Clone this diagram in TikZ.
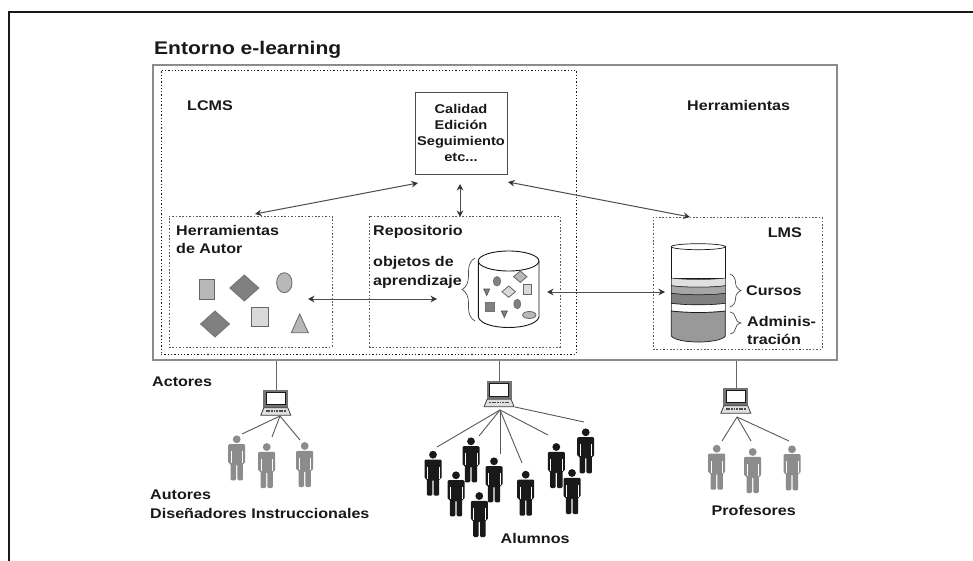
\documentclass[tikz,border=0pt]{standalone}
\usepackage{fontspec}
\setmainfont[FakeStretch=1.15]{Liberation Sans}
\usetikzlibrary{arrows.meta,decorations.pathreplacing}
\definecolor{ink}{gray}{0.1}
\definecolor{midg}{gray}{0.55}
\definecolor{shp}{gray}{0.72}
\definecolor{shd}{gray}{0.5}
\definecolor{shl}{gray}{0.85}
\tikzset{
  x=1pt,y=-1pt,
  lab/.style={font=\bfseries\fontsize{14}{16}\selectfont,text=ink,inner sep=0pt,anchor=west},
  labc/.style={font=\bfseries\fontsize{12.7}{16}\selectfont,text=ink,align=center,inner sep=0pt},
  solidbox/.style={draw=midg,line width=1.3pt,inner sep=0pt,rectangle},
  lcmsbox/.style={draw=ink,line width=0.6pt,dash pattern=on 1.3pt off 2pt,inner sep=0pt,rectangle},
  subbox/.style={draw=black!65,line width=0.7pt,dash pattern=on 1.6pt off 1.8pt,inner sep=0pt,rectangle},
  twoway/.style={draw=black!70,line width=1pt,{Stealth[length=6.5pt,width=6.5pt,black!80]}-{Stealth[length=6.5pt,width=6.5pt,black!80]}},
  lapbox/.style={minimum width=30pt,minimum height=26pt,inner sep=0pt,rectangle},
  uplink/.style={draw=black!60,line width=1pt},
  link/.style={draw=black!65,line width=0.9pt},
  shapeA/.style={fill=shp,draw=black!60,line width=0.8pt},
  shapeB/.style={fill=shd,draw=black!55,line width=0.8pt},
  shapeC/.style={fill=shl,draw=black!60,line width=0.8pt},
  bracestyle/.style={draw=black!70,line width=0.7pt,decorate},
  laptop/.pic={
    \fill[black!55] (2.5,0) rectangle (27.5,18);
    \draw[fill=white,draw=ink,line width=0.7pt] (5.5,2.5) rectangle (24.5,15);
    \draw[fill=black!12,draw=black!75,line width=0.8pt] (3,18) -- (27,18) -- (30,25.5) -- (0,25.5) -- cycle;
    \draw[black!70,line width=1.5pt,dash pattern=on 1.8pt off 0.8pt] (5,21) -- (25,21);
  },
  person/.pic={
    \fill (0,0) circle[radius=3.9pt];
    \fill[rounded corners=1.2pt] (-8.5,4.8) -- (8.5,4.8) -- (8.5,24) -- (6.2,24) -- (6.2,41) -- (0.7,41) -- (0.7,25) -- (-0.7,25) -- (-0.7,41) -- (-6.2,41) -- (-6.2,24) -- (-8.5,24) -- cycle;
    \draw[white,line width=0.4pt] (-5.8,12) -- (-5.8,24) (5.8,12) -- (5.8,24);
  },
}
\newcommand{\band}[4]{% top, bottom, curve depth, colour
  \draw[fill=#4,draw=ink,line width=0.5pt] (671.3,#1) .. controls (685,#1+#3) and (712,#1+#3) .. (725.3,#1) -- (725.3,#2) .. controls (712,#2+#3) and (685,#2+#3) .. (671.3,#2) -- cycle;}
\begin{document}
\begin{tikzpicture}
\useasboundingbox (0,0) rectangle (973,561);
\fill[white] (0,0) rectangle (973,561);
\draw[ink,line width=2pt] (9,561) -- (9,12.5) -- (973,12.5);

% boxes
\node[solidbox,minimum width=684pt,minimum height=295pt] (outer) at (495,212.5) {};
\node[lcmsbox,minimum width=415pt,minimum height=284pt] (lcms) at (368.5,212) {};
\node[subbox,minimum width=163pt,minimum height=131pt] (herr) at (250.5,281.5) {};
\node[subbox,minimum width=191pt,minimum height=131pt] (repo) at (464.5,281.5) {};
\node[subbox,minimum width=169pt,minimum height=132pt] (lms) at (737.5,283) {};
\node[draw=black!70,line width=0.9pt,minimum width=92pt,minimum height=82pt,inner sep=0pt,labc] (cal) at (461,133) {Calidad\\Edición\\Seguimiento\\etc...};

% titles and labels
\node[lab,font=\bfseries\fontsize{18.3}{20}\selectfont] (t1) at (154,50) {Entorno e-learning};
\node[lab] (t2) at (187,106) {LCMS};
\node[lab] (t3) at (687,105) {Herramientas};
\node[lab] (t4) at (176,230) {Herramientas};
\node[lab] (t5) at (176,248) {de Autor};
\node[lab] (t6) at (373,232) {Repositorio};
\node[lab] (t7) at (373,263) {objetos de};
\node[lab] (t8) at (373,282) {aprendizaje};
\node[lab,anchor=east] (t9) at (802,233) {LMS};
\node[lab] (t10) at (746,291) {Cursos};
\node[lab] (t11) at (747,321) {Adminis-};
\node[lab] (t12) at (747,339) {tración};
\node[lab] (t13) at (152,382) {Actores};
\node[lab] (t14) at (150,495) {Autores};
\node[lab] (t15) at (150,513) {Diseñadores Instruccionales};
\node[lab] (t16) at (500.5,538) {Alumnos};
\node[lab] (t17) at (711.5,510) {Profesores};

% arrows
\coordinate (a1s) at (418,183);
\coordinate (a1e) at (255,214);
\coordinate (a2s) at (460,184);
\coordinate (a2e) at (460,217);
\coordinate (a3s) at (508,182);
\coordinate (a3e) at (690,217);
\coordinate (a4s) at (308,299);
\coordinate (a4e) at (437,299);
\coordinate (a5s) at (547,292);
\coordinate (a5e) at (665,292);
\draw[twoway] (a1s) -- (a1e);
\draw[twoway] (a2s) -- (a2e);
\draw[twoway] (a3s) -- (a3e);
\draw[twoway] (a4s) -- (a4e);
\draw[twoway] (a5s) -- (a5e);

% author-tool shapes
\draw[shapeA] (199,279) rectangle (214.7,299);
\draw[shapeB] (229.8,288) -- (244.3,275) -- (258.8,288) -- (244.3,301) -- cycle;
\draw[shapeA] (284.3,282.7) ellipse[x radius=7.7pt,y radius=10pt];
\draw[shapeB] (200.5,324) -- (215,311) -- (229.5,324) -- (215,337) -- cycle;
\draw[shapeC] (251.7,307.3) rectangle (268.3,326.7);
\draw[shapeA] (299.7,314) -- (308.3,332.7) -- (291.3,332.7) -- cycle;

% repository cylinder
\draw[ink,line width=0.9pt,fill=white] (478.3,261) -- (478.3,317) .. controls (482,331) and (535,331) .. (539,317) -- (539,261);
\draw[ink,line width=0.9pt,fill=white] (508.6,261) ellipse[x radius=30.3pt,y radius=10pt];
\draw[shapeB] (497,281.3) ellipse[x radius=3.7pt,y radius=4.7pt];
\draw[shapeA] (513.6,276.7) -- (520.3,271) -- (527,276.7) -- (520.3,282.4) -- cycle;
\draw[shapeC] (523.7,284.3) rectangle (531.7,294);
\draw[fill=shd,draw=black!70,line width=0.6pt] (483.7,289) -- (489.7,289) -- (486.7,295.5) -- cycle;
\draw[shapeC] (502,291.7) -- (508.7,286) -- (515.4,291.7) -- (508.7,297.4) -- cycle;
\draw[shapeB] (485.3,302) rectangle (494,311.3);
\draw[shapeB] (517.3,304) ellipse[x radius=3.5pt,y radius=4.7pt];
\draw[fill=shd,draw=black!70,line width=0.6pt] (501.3,311) -- (507.3,311) -- (504.3,317.5) -- cycle;
\draw[shapeA] (529.3,315) ellipse[x radius=6.7pt,y radius=3.5pt];
\coordinate (b1a) at (475,258);
\coordinate (b1b) at (475,321);
\draw[bracestyle,decoration={brace,amplitude=13pt}] (b1b) -- (b1a);

% LMS cylinder
\draw[ink,line width=0.7pt,fill=white] (671.3,246.7) rectangle (725.3,278);
\band{278}{285.7}{2}{black!12}
\band{285.7}{293.3}{2}{black!35}
\band{293.3}{303.3}{2}{black!50}
\draw[ink,line width=0.6pt,fill=white] (671.3,303.3) .. controls (685,305.3) and (712,305.3) .. (725.3,303.3) -- (725.3,311) .. controls (712,313) and (685,313) .. (671.3,311) -- cycle;
\draw[ink,line width=0.7pt,fill=black!40] (671.3,311) .. controls (685,313) and (712,313) .. (725.3,311) -- (725.3,336) .. controls (720,344) and (677,344) .. (671.3,336) -- cycle;
\draw[ink,line width=0.7pt,fill=white] (698.3,246.7) ellipse[x radius=27pt,y radius=3pt];
\coordinate (b2a) at (730,274);
\coordinate (b2b) at (730,307);
\coordinate (b3a) at (730,312);
\coordinate (b3b) at (730,334);
\draw[bracestyle,decoration={brace,amplitude=11pt}] (b2a) -- (b2b);
\draw[bracestyle,decoration={brace,amplitude=11pt}] (b3a) -- (b3b);

% laptops and links
\node[lapbox] (lap1) at (276,403) {};
\node[lapbox] (lap2) at (499.3,394.5) {};
\node[lapbox] (lap3) at (736,401) {};
\pic at (lap1.north west) {laptop};
\pic at (lap2.north west) {laptop};
\pic at (lap3.north west) {laptop};
\draw[uplink] (outer.south -| lap1.north) -- (lap1.north);
\draw[uplink] (outer.south -| lap2.north) -- (lap2.north);
\draw[uplink] (outer.south -| lap3.north) -- (lap3.north);

\coordinate (o1) at (280,416);
\coordinate (o2) at (500,410);
\coordinate (o2b) at (515,407);
\coordinate (o3) at (737,417);
\coordinate (e11) at (242,434);
\coordinate (e12) at (272,437);
\coordinate (e13) at (300,440);
\coordinate (e21) at (437,447);
\coordinate (e22) at (479,436);
\coordinate (e23) at (500,454);
\coordinate (e24) at (522,463);
\coordinate (e25) at (548,435);
\coordinate (e26) at (584,422);
\coordinate (e31) at (722,441);
\coordinate (e32) at (751,441);
\coordinate (e33) at (789,441);
\foreach \e in {e11,e12,e13} \draw[link] (o1) -- (\e);
\foreach \e in {e21,e22,e23,e24,e25} \draw[link] (o2) -- (\e);
\draw[link] (o2b) -- (e26);
\foreach \e in {e31,e32,e33} \draw[link] (o3) -- (\e);

% people
\foreach \p in {(236.7,439.3),(266.7,447),(304.7,446),(716.7,448.7),(752.7,452),(792,449.3)}
  \pic[fill=black!45] at \p {person};
\foreach \p in {(433,454.7),(471,441.3),(494,461.3),(456,475.3),(479.3,496),(525.7,474.7),(556.3,447),(585.7,432.3),(572,473)}
  \pic[fill=ink] at \p {person};
\end{tikzpicture}
\end{document}
